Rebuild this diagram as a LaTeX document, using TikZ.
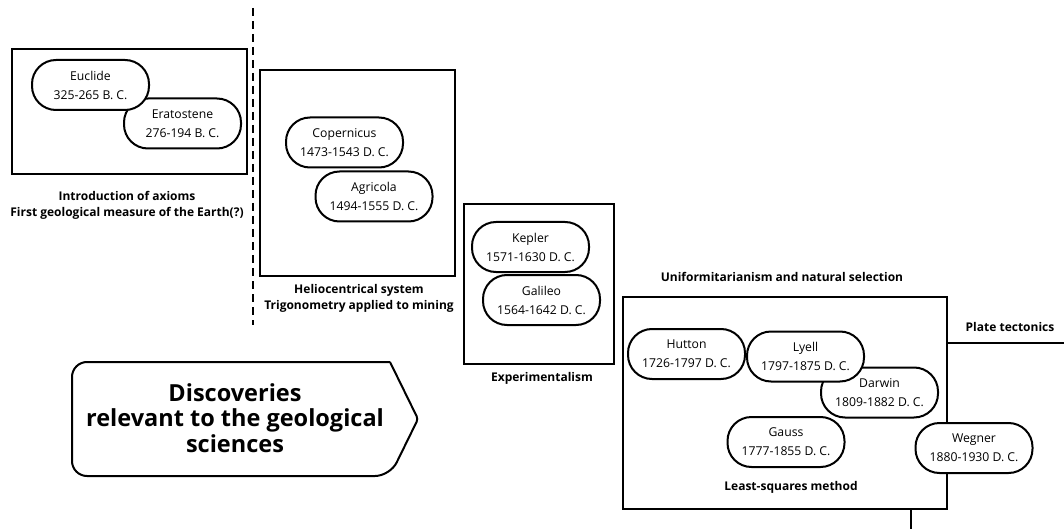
\documentclass[tikz,border=0pt]{standalone}
\usepackage{fontspec}
\setmainfont{Open Sans}
\usetikzlibrary{positioning}

\begin{document}
\begin{tikzpicture}[x=1pt, y=-1pt, line width=2pt,
    pill/.style={draw, fill=white, rounded corners=24pt, minimum width=117pt, minimum height=50pt,
        align=center, inner sep=0pt, font=\fontsize{12.2}{19}\selectfont},
    periodbox/.style={draw, inner sep=0pt},
    caption/.style={align=center, font=\bfseries\fontsize{12}{16}\selectfont}]
\useasboundingbox (0,0) rectangle (1064,529);

\draw[dash pattern=on 8pt off 5pt] (253,8) -- (253,325);

% the four periods
\node[periodbox, minimum width=235pt, minimum height=125pt] (antiquity) at (129.5,111.5) {};
\node[periodbox, minimum width=195pt, minimum height=206pt] (renaissance) at (357.5,173) {};
\node[periodbox, minimum width=150pt, minimum height=160pt] (experiment) at (539,284) {};
\node[periodbox, minimum width=324pt, minimum height=212pt] (modern) at (785,403) {};

\node[pill] (eratostene) at (182.5,123.5) {Eratostene\\ 276-194 B. C.};
\node[pill] (euclide) at (90.5,85) {Euclide\\ 325-265 B. C.};
\node[pill] (copernicus) at (344.5,142.5) {Copernicus\\ 1473-1543 D. C.};
\node[pill] (agricola) at (374,196.5) {Agricola\\ 1494-1555 D. C.};
\node[pill] (kepler) at (530.5,247) {Kepler\\ 1571-1630 D. C.};
\node[pill] (galileo) at (541.5,300) {Galileo\\ 1564-1642 D. C.};
\node[pill] (hutton) at (686.5,354) {Hutton\\ 1726-1797 D. C.};
\node[pill] (darwin) at (879.5,392.5) {Darwin\\ 1809-1882 D. C.};
\node[pill] (lyell) at (805.5,356.5) {Lyell\\ 1797-1875 D. C.};
\node[pill] (gauss) at (786,442) {Gauss\\ 1777-1855 D. C.};
\node[pill] (wegner) at (974,448) {Wegner\\ 1880-1930 D. C.};

\node[caption] (axioms) at (127,205) {Introduction of axioms\\ First geological measure of the Earth(?)};
\node[caption] (helio) at (359,298) {Heliocentrical system\\ Trigonometry applied to mining};
\node[caption] (exper) at (542,378) {Experimentalism};
\node[caption] (uniform) at (782,277) {Uniformitarianism and natural selection};
\node[caption] (squares) at (791,487) {Least-squares method};
\node[caption] (plates) at (1010,327) {Plate tectonics};

\coordinate (plateEnd) at (1064,343);
\coordinate (downEnd) at (911,529);
\draw (modern.east |- plateEnd) -- (plateEnd);
\draw (modern.south -| downEnd) -- (downEnd);

% title arrow
\draw (390,362) [rounded corners=15pt] -- (72,362) -- (72,476) -- (390,476)
    [rounded corners=3pt] -- (418,419) -- (390,362);
\node[align=center, font=\bfseries\fontsize{23.5}{25.5}\selectfont] (title) at (235,418)
    {Discoveries\\ relevant to the geological\\ sciences};

\end{tikzpicture}
\end{document}
